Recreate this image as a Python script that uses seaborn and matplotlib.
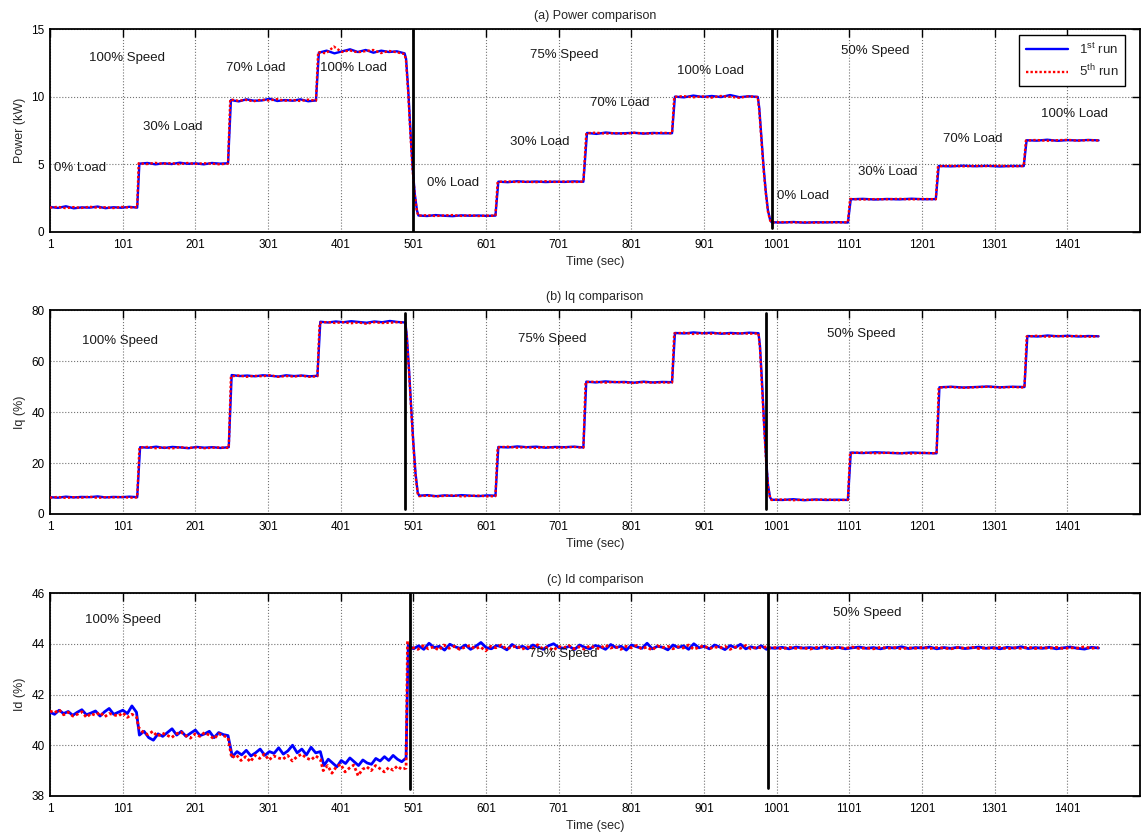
import numpy as np
import matplotlib
matplotlib.use("Agg")
import matplotlib.pyplot as plt
import seaborn as sns

# ---------------- DATA ----------------
# Each series: list of (t_start, t_end, [values])
power_1st = [
    (1, 121, [1.85, 1.78, 1.90, 1.75, 1.82, 1.80, 1.88, 1.76, 1.83, 1.79, 1.86, 1.80]),
    (124, 246, [5.05, 5.10, 5.00, 5.08, 5.02, 5.12, 5.04, 5.07, 5.00, 5.10, 5.05, 5.08]),
    (250, 367, [9.75, 9.65, 9.80, 9.70, 9.72, 9.85, 9.68, 9.75, 9.70, 9.80, 9.66, 9.72]),
    (371, 489, [13.25, 13.40, 13.20, 13.35, 13.50, 13.30, 13.45, 13.25, 13.40, 13.30, 13.35, 13.20]),
    (491, 506, [12.80, 10.50, 7.50, 4.80, 2.80, 1.60]),
    (508, 614, [1.22, 1.18, 1.25, 1.20, 1.17, 1.23, 1.20, 1.22, 1.19, 1.21]),
    (618, 735, [3.72, 3.68, 3.75, 3.70, 3.73, 3.69, 3.72, 3.70, 3.74, 3.71]),
    (740, 857, [7.32, 7.25, 7.35, 7.28, 7.30, 7.33, 7.27, 7.32, 7.29, 7.30]),
    (861, 975, [10.00, 9.95, 10.08, 9.98, 10.05, 9.97, 10.12, 9.96, 10.03, 9.98]),
    (977, 992, [9.20, 7.00, 4.80, 3.00, 1.60, 0.90]),
    (994, 1099, [0.72, 0.70, 0.74, 0.69, 0.72, 0.71, 0.73, 0.70]),
    (1103, 1220, [2.42, 2.45, 2.40, 2.44, 2.41, 2.46, 2.42, 2.43]),
    (1224, 1341, [4.88, 4.85, 4.90, 4.86, 4.89, 4.84, 4.88, 4.87]),
    (1345, 1444, [6.78, 6.75, 6.82, 6.74, 6.79, 6.76, 6.80, 6.77]),
]
power_5th = [
    (1, 121, [1.80, 1.86, 1.76, 1.84, 1.78, 1.87, 1.79, 1.83, 1.77, 1.85, 1.81, 1.84]),
    (123, 246, [5.08, 5.02, 5.11, 5.04, 5.09, 5.01, 5.10, 5.03, 5.08, 5.05, 5.00, 5.06]),
    (249, 367, [9.80, 9.70, 9.76, 9.66, 9.78, 9.72, 9.82, 9.70, 9.76, 9.68, 9.78, 9.70]),
    (370, 489, [13.30, 13.20, 13.70, 13.30, 13.42, 13.28, 13.36, 13.45, 13.22, 13.38, 13.28, 13.15]),
    (491, 506, [12.60, 10.20, 7.20, 4.60, 2.70, 1.50]),
    (508, 614, [1.20, 1.24, 1.18, 1.22, 1.25, 1.19, 1.23, 1.18, 1.21, 1.20]),
    (617, 735, [3.70, 3.74, 3.69, 3.72, 3.68, 3.75, 3.70, 3.73, 3.69, 3.72]),
    (739, 857, [7.30, 7.34, 7.27, 7.31, 7.26, 7.33, 7.29, 7.28, 7.34, 7.29]),
    (860, 975, [9.98, 10.04, 9.95, 10.02, 9.93, 10.05, 9.99, 9.92, 10.02, 9.97]),
    (977, 992, [9.00, 6.80, 4.60, 2.90, 1.50, 0.85]),
    (994, 1099, [0.70, 0.73, 0.71, 0.72, 0.69, 0.73, 0.71, 0.72]),
    (1102, 1220, [2.44, 2.40, 2.43, 2.42, 2.45, 2.41, 2.44, 2.42]),
    (1223, 1341, [4.86, 4.89, 4.85, 4.88, 4.87, 4.90, 4.85, 4.88]),
    (1344, 1444, [6.76, 6.80, 6.74, 6.78, 6.81, 6.75, 6.79, 6.76]),
]
iq_1st = [
    (1, 121, [6.6, 6.4, 6.8, 6.5, 6.7, 6.6, 6.9, 6.5, 6.7, 6.6, 6.8, 6.6]),
    (125, 247, [26.2, 26.0, 26.4, 25.9, 26.3, 26.1, 25.8, 26.3, 26.0, 26.2, 25.9, 26.2]),
    (251, 369, [54.5, 54.1, 54.3, 54.0, 54.4, 54.2, 53.9, 54.4, 54.1, 54.3, 54.0, 54.2]),
    (373, 490, [75.4, 75.1, 75.5, 75.2, 75.6, 75.3, 75.0, 75.5, 75.2, 75.7, 75.3, 75.1]),
    (492, 507, [70.0, 57.0, 42.0, 28.0, 16.0, 8.5]),
    (509, 614, [7.2, 7.4, 7.0, 7.3, 7.1, 7.4, 7.2, 7.0, 7.3, 7.2]),
    (618, 735, [26.3, 26.1, 26.5, 26.2, 26.4, 26.0, 26.3, 26.2, 26.4, 26.1]),
    (739, 857, [51.9, 51.6, 52.0, 51.7, 51.8, 51.5, 51.9, 51.6, 51.8, 51.7]),
    (861, 976, [71.0, 70.8, 71.2, 70.9, 71.1, 70.7, 71.0, 70.8, 71.1, 70.9]),
    (978, 992, [66.0, 52.0, 36.0, 22.0, 11.0, 6.5]),
    (994, 1099, [5.6, 5.5, 5.8, 5.4, 5.7, 5.5, 5.6, 5.5]),
    (1103, 1221, [24.1, 23.9, 24.2, 24.0, 23.8, 24.1, 23.9, 23.8]),
    (1225, 1342, [49.7, 49.9, 49.6, 49.8, 50.0, 49.7, 49.9, 49.8]),
    (1346, 1444, [69.8, 69.6, 70.0, 69.7, 69.9, 69.6, 69.8, 69.7]),
]
iq_5th = [
    (1, 121, [6.4, 6.7, 6.3, 6.6, 6.4, 6.8, 6.3, 6.6, 6.5, 6.7, 6.4, 6.5]),
    (124, 247, [26.0, 26.3, 25.8, 26.1, 25.7, 26.2, 25.9, 26.1, 25.8, 26.0, 26.1, 25.9]),
    (250, 369, [54.0, 54.3, 53.8, 54.2, 54.0, 54.4, 53.8, 54.1, 53.9, 54.2, 53.8, 54.0]),
    (372, 490, [75.0, 75.3, 74.9, 75.2, 74.8, 75.1, 74.6, 75.2, 74.9, 75.0, 75.2, 74.9]),
    (492, 507, [69.0, 56.0, 41.0, 27.0, 15.0, 8.0]),
    (509, 614, [7.0, 7.2, 6.9, 7.1, 7.3, 6.9, 7.1, 7.2, 6.9, 7.0]),
    (617, 735, [26.1, 26.4, 26.0, 26.2, 25.9, 26.3, 26.0, 26.1, 26.3, 26.0]),
    (738, 857, [51.7, 51.9, 51.5, 51.8, 51.6, 51.4, 51.7, 51.5, 51.6, 51.5]),
    (860, 976, [70.8, 71.1, 70.6, 70.9, 70.7, 71.0, 70.6, 70.9, 70.7, 70.8]),
    (978, 992, [65.0, 50.0, 35.0, 21.0, 10.5, 6.2]),
    (994, 1099, [5.5, 5.7, 5.4, 5.6, 5.5, 5.7, 5.4, 5.6]),
    (1102, 1221, [23.9, 24.1, 23.8, 24.0, 23.9, 23.7, 24.0, 23.8]),
    (1224, 1342, [49.6, 49.8, 49.5, 49.7, 49.9, 49.6, 49.8, 49.6]),
    (1345, 1444, [69.6, 69.9, 69.5, 69.8, 69.6, 69.9, 69.5, 69.7]),
]
id_1st = [
    (1, 120, [41.30, 41.22, 41.38, 41.25, 41.33, 41.18, 41.30, 41.40, 41.20, 41.27,
              41.35, 41.15, 41.32, 41.45, 41.22, 41.30, 41.38, 41.25, 41.55, 41.30]),
    (124, 246, [40.40, 40.55, 40.30, 40.20, 40.45, 40.35, 40.50, 40.65, 40.40, 40.55,
                40.35, 40.48, 40.60, 40.38, 40.45, 40.55, 40.30, 40.50, 40.42, 40.38]),
    (252, 373, [39.55, 39.75, 39.62, 39.80, 39.58, 39.70, 39.85, 39.60, 39.75, 39.68,
                39.90, 39.65, 39.78, 40.00, 39.70, 39.85, 39.62, 39.92, 39.70, 39.75]),
    (378, 491, [39.20, 39.45, 39.30, 39.15, 39.40, 39.28, 39.50, 39.35, 39.20, 39.42,
                39.30, 39.25, 39.48, 39.38, 39.55, 39.40, 39.60, 39.45, 39.35, 39.50]),
    (494, 987, [43.95, 43.80, 43.92, 43.78, 44.02, 43.85, 43.90, 43.75, 43.98, 43.88,
                43.82, 43.95, 43.78, 43.90, 44.05, 43.85, 43.80, 43.93, 43.88, 43.76,
                43.97, 43.84, 43.90, 43.80, 43.95, 43.87, 43.78, 43.92, 44.00, 43.85,
                43.82, 43.90, 43.77, 43.95, 43.86, 43.80, 43.93, 43.88, 43.78, 43.97,
                43.85, 43.90, 43.75, 43.95, 43.88, 43.82, 44.02, 43.80, 43.90, 43.86,
                43.76, 43.95, 43.85, 43.92, 43.78, 44.00, 43.84, 43.90, 43.80, 43.95,
                43.87, 43.77, 43.93, 43.85, 43.98, 43.80, 43.88, 43.82, 43.92, 43.78]),
    (989, 1444, [43.85, 43.82, 43.86, 43.80, 43.87, 43.83, 43.85, 43.81, 43.88, 43.83,
                 43.86, 43.80, 43.84, 43.87, 43.82, 43.85, 43.80, 43.86, 43.83, 43.88,
                 43.81, 43.85, 43.83, 43.87, 43.80, 43.85, 43.82, 43.86, 43.81, 43.84,
                 43.87, 43.82, 43.85, 43.80, 43.86, 43.83, 43.88, 43.81, 43.85, 43.82,
                 43.86, 43.80, 43.84, 43.87, 43.82, 43.79, 43.86, 43.83]),
]
id_5th = [
    (1, 120, [41.35, 41.28, 41.40, 41.20, 41.30, 41.15, 41.22, 41.32, 41.10, 41.25,
              41.18, 41.30, 41.12, 41.25, 41.20, 41.15, 41.28, 41.10, 41.22, 41.12]),
    (123, 246, [40.70, 40.50, 40.42, 40.55, 40.35, 40.48, 40.40, 40.30, 40.45, 40.52,
                40.38, 40.28, 40.45, 40.35, 40.50, 40.40, 40.25, 40.45, 40.38, 40.30]),
    (251, 373, [39.50, 39.62, 39.40, 39.55, 39.35, 39.60, 39.48, 39.65, 39.42, 39.58,
                39.50, 39.45, 39.60, 39.38, 39.55, 39.65, 39.50, 39.42, 39.58, 39.45]),
    (377, 491, [39.00, 39.20, 38.90, 39.15, 39.25, 38.95, 39.10, 39.22, 38.80, 39.05,
                39.15, 39.00, 39.20, 39.08, 38.95, 39.12, 39.02, 39.18, 39.05, 39.10]),
    (493, 987, [44.10, 43.85, 43.78, 43.92, 43.80, 43.88, 43.75, 43.95, 43.82, 43.90,
                43.78, 43.86, 43.93, 43.80, 43.88, 43.72, 43.90, 43.84, 43.95, 43.80,
                43.86, 43.92, 43.78, 43.88, 43.82, 43.96, 43.80, 43.87, 43.74, 43.90,
                43.84, 43.93, 43.80, 43.88, 43.78, 43.92, 43.85, 43.80, 43.95, 43.83,
                43.88, 43.78, 43.90, 43.84, 43.93, 43.80, 43.87, 43.75, 43.92, 43.85,
                43.90, 43.80, 43.88, 43.83, 43.95, 43.78, 43.86, 43.92, 43.80, 43.88,
                43.83, 43.90, 43.78, 43.87, 43.82, 43.93, 43.80, 43.86, 43.84, 43.88]),
    (989, 1444, [43.82, 43.85, 43.80, 43.86, 43.82, 43.84, 43.79, 43.86, 43.83, 43.81,
                 43.85, 43.82, 43.87, 43.81, 43.84, 43.80, 43.86, 43.82, 43.85, 43.80,
                 43.84, 43.82, 43.86, 43.81, 43.85, 43.83, 43.80, 43.85, 43.82, 43.86,
                 43.81, 43.84, 43.82, 43.86, 43.80, 43.84, 43.82, 43.87, 43.81, 43.85,
                 43.82, 43.86, 43.81, 43.84, 43.83, 43.88, 43.82, 43.85]),
]

# vertical divider lines: (time, y_low, y_high)
power_dividers = [(501, 0.0, 15.0), (995, 0.3, 15.0)]
iq_dividers = [(489, 2.0, 79.0), (986, 2.0, 79.0)]
id_dividers = [(496, 38.28, 46.0), (989, 38.3, 46.0)]

# annotations: (text, t, value)
power_notes = [
    ("100% Speed", 107, 12.86), ("70% Load", 284, 12.1), ("100% Load", 418, 12.1),
    ("30% Load", 170, 7.75), ("0% Load", 42, 4.7),
    ("75% Speed", 709, 13.1), ("100% Load", 910, 11.9), ("70% Load", 785, 9.5),
    ("30% Load", 675, 6.65), ("0% Load", 556, 3.6),
    ("0% Load", 1037, 2.66), ("50% Speed", 1136, 13.4), ("100% Load", 1411, 8.7),
    ("70% Load", 1271, 6.9), ("30% Load", 1154, 4.45),
]
iq_notes = [("100% Speed", 97, 68.0), ("75% Speed", 692, 68.6), ("50% Speed", 1118, 70.6)]
id_notes = [("100% Speed", 101, 44.93), ("75% Speed", 707, 43.6), ("50% Speed", 1125, 45.2)]

x_ticks = [1, 101, 201, 301, 401, 501, 601, 701, 801, 901, 1001, 1101, 1201, 1301, 1401]
x_range = (1, 1501)
series_labels = ["1$^{\\mathrm{st}}$ run", "5$^{\\mathrm{th}}$ run"]

panels = [
    dict(title="(a) Power comparison", ylabel="Power (kW)", s1=power_1st, s5=power_5th,
         ylim=(0, 15), yticks=[0, 5, 10, 15], div=power_dividers, notes=power_notes,
         legend=True, lw=1.7),
    dict(title="(b) Iq comparison", ylabel="Iq (%)", s1=iq_1st, s5=iq_5th,
         ylim=(0, 80), yticks=[0, 20, 40, 60, 80], div=iq_dividers, notes=iq_notes,
         legend=False, lw=1.7),
    dict(title="(c) Id comparison", ylabel="Id (%)", s1=id_1st, s5=id_5th,
         ylim=(38, 46), yticks=[38, 40, 42, 44, 46], div=id_dividers, notes=id_notes,
         legend=False, lw=2.0),
]


def build(segments):
    xs, ys = [], []
    for t0, t1, vals in segments:
        xs.append(np.linspace(t0, t1, len(vals)))
        ys.append(np.asarray(vals, dtype=float))
    return np.concatenate(xs), np.concatenate(ys)


# ---------------- STYLE / LAYOUT ----------------
sns.set_style("white")
plt.rcParams["font.family"] = ["Liberation Sans", "DejaVu Sans"]
plt.rcParams["mathtext.fontset"] = "custom"
plt.rcParams["mathtext.rm"] = "Liberation Sans"

W, H = 1144, 836
fig = plt.figure(figsize=(W / 100, H / 100), dpi=100)
fig.patch.set_facecolor("white")

# axes boxes in pixels: (left, top, right, bottom)
boxes = [(50, 29, 1140, 232), (50, 310, 1140, 514), (50, 593, 1140, 796)]

for box, p in zip(boxes, panels):
    l, t, r, b = box
    ax = fig.add_axes([l / W, 1 - b / H, (r - l) / W, (b - t) / H])
    x1, y1 = build(p["s1"])
    x5, y5 = build(p["s5"])
    sns.lineplot(x=x1, y=y1, ax=ax, color="#0000ff", linewidth=p["lw"], estimator=None,
                 sort=False, label=series_labels[0], zorder=3)
    sns.lineplot(x=x5, y=y5, ax=ax, color="#ff0000", linewidth=p["lw"],
                 linestyle=(0, (1.0, 0.9)),
                 estimator=None, sort=False, label=series_labels[1], zorder=4)
    for (tx, ylo, yhi) in p["div"]:
        ax.plot([tx, tx], [ylo, yhi], color="black", linewidth=2.0, zorder=5)
    for (txt, tx, ty) in p["notes"]:
        ax.text(tx, ty, txt, ha="center", va="center", fontsize=9.5, color="#1a1a1a", zorder=6)

    ax.set_xlim(*x_range)
    ax.set_ylim(*p["ylim"])
    ax.set_xticks(x_ticks)
    ax.set_xticklabels([str(v) for v in x_ticks])
    ax.set_yticks(p["yticks"])
    ax.set_yticklabels([str(v) for v in p["yticks"]])
    ax.grid(True, color="0.45", linestyle=":", linewidth=0.8)
    ax.set_axisbelow(True)
    ax.tick_params(direction="in", length=6, width=1.0, top=True, right=True,
                   labelsize=8.5, pad=5, colors="black")
    ax.tick_params(axis="y", pad=4)
    for sp in ax.spines.values():
        sp.set_color("black")
        sp.set_linewidth(1.3)
        sp.set_visible(True)
    ax.set_title(p["title"], fontsize=9, pad=7)
    ax.set_xlabel("Time (sec)", fontsize=9, labelpad=4)
    ax.set_ylabel(p["ylabel"], fontsize=9, labelpad=4)

    if p["legend"]:
        leg = ax.legend(loc="upper right", bbox_to_anchor=(0.986, 0.97), borderaxespad=0,
                        fancybox=False, framealpha=1, edgecolor="black", fontsize=9.5,
                        handlelength=3.2, labelspacing=0.45, borderpad=0.5)
        leg.get_frame().set_linewidth(1.0)
        leg.set_zorder(10)
    else:
        lg = ax.get_legend()
        if lg is not None:
            lg.remove()

fig.savefig("out.png", dpi=100, facecolor="white")
